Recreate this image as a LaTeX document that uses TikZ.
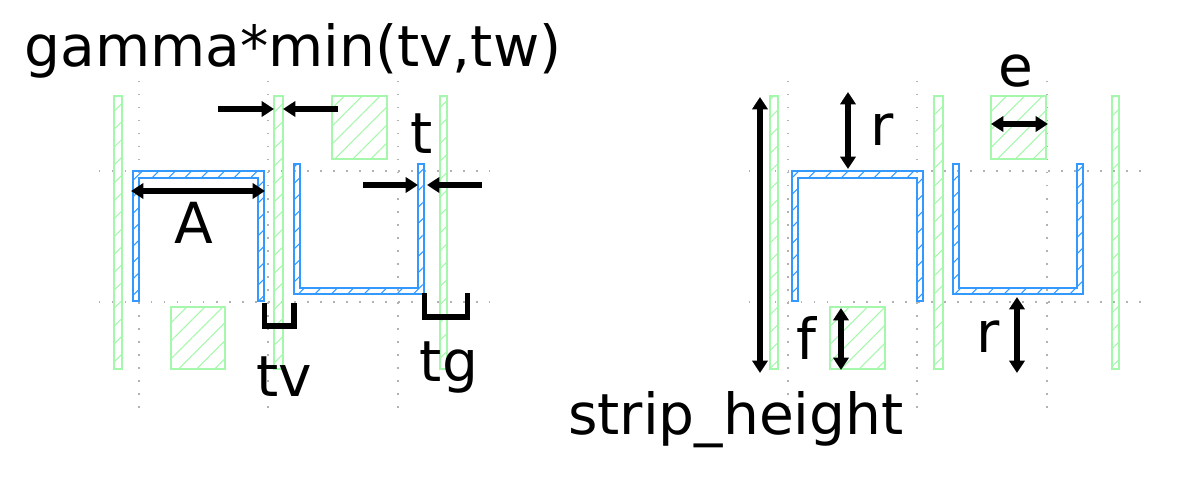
\documentclass[tikz,border=0pt]{standalone}
\usepackage{fontspec}
\setmainfont{DejaVu Sans}
\usetikzlibrary{arrows.meta,patterns.meta}
\definecolor{viagreen}{HTML}{A5F8AB}
\definecolor{metalblue}{HTML}{3399FF}
\begin{document}
\begin{tikzpicture}[x=.01cm,y=-.01cm,>={Triangle[length=3.5pt,width=4.3pt]},
  every node/.style={font=\fontsize{16.1}{18}\selectfont,anchor=base,inner sep=0pt},
  griddots/.style={gray!60,line width=.4pt,dash pattern=on .4pt off 3.3pt},
  greenhatch/.style={draw=viagreen,line width=.5pt,pattern={Lines[angle=45,distance=3.6pt,line width=.3pt]},pattern color=viagreen},
  bluehatch/.style={draw=metalblue,line width=.5pt,pattern={Lines[angle=45,distance=3.3pt,line width=.3pt]},pattern color=metalblue},
  dimarrow/.style={line width=1.5pt,black}]
\useasboundingbox (0,0) rectangle (1199,494);
% grid
\foreach \x in {139,268,398,788,917,1047} \draw[griddots] (\x,81)--(\x,408);
\foreach \y in {171,302} {\draw[griddots] (99,\y)--(490,\y);\draw[griddots] (749,\y)--(1152,\y);}
% via bars and squares
\foreach \a/\b in {114/122,274/283,440/447,770/778,934/943,1112/1119} \draw[greenhatch] (\a,96) rectangle (\b,369);
\draw[greenhatch] (332,96) rectangle (387,159);\draw[greenhatch] (991,96) rectangle (1046,159);
\draw[greenhatch] (171,307) rectangle (225,369);\draw[greenhatch] (830,307) rectangle (885,369);
% metal
\foreach \dx in {0,659} {
\draw[bluehatch] (133+\dx,301)--(133+\dx,171)--(264+\dx,171)--(264+\dx,301)--(258+\dx,301)--(258+\dx,178)--(139+\dx,178)--(139+\dx,301)--cycle;
\draw[bluehatch] (294+\dx,164)--(294+\dx,294)--(424+\dx,294)--(424+\dx,164)--(418+\dx,164)--(418+\dx,288)--(300+\dx,288)--(300+\dx,164)--cycle;
}
% left dimensions
\draw[->,dimarrow] (218,109)--(274,109);\draw[->,dimarrow] (338,109)--(283,109);
\draw[<->,dimarrow] (131,191)--(265,191);
\draw[->,dimarrow] (363,185)--(418,185);\draw[->,dimarrow] (482,185)--(427,185);
\draw[dimarrow] (264.5,303)--(264.5,326)--(294,326)--(294,303);
\draw[dimarrow] (424.5,293)--(424.5,317)--(467.5,317)--(467.5,293);
% right dimensions
\draw[<->,dimarrow] (760,97)--(760,373);
\draw[<->,dimarrow] (848,92)--(848,169);
\draw[<->,dimarrow] (991,124)--(1048,124);
\draw[<->,dimarrow] (841,308)--(841,370);
\draw[<->,dimarrow] (1017,297)--(1017,373);
% labels
\node (gammalabel) at (293,67){gamma*min(tv,tw)};
\node (alabel) at (194,243){A};
\node (tlabel) at (422,153){t};
\node (tvlabel) at (284,396){tv};
\node (tglabel) at (449,381){tg};
\node (rtoplabel) at (882,146){r};
\node (elabel) at (1016,87){e};
\node (flabel) at (806,359){f};
\node (rbotlabel) at (988,352){r};
\node (striplabel) at (736,434){strip\_height};
\end{tikzpicture}
\end{document}
